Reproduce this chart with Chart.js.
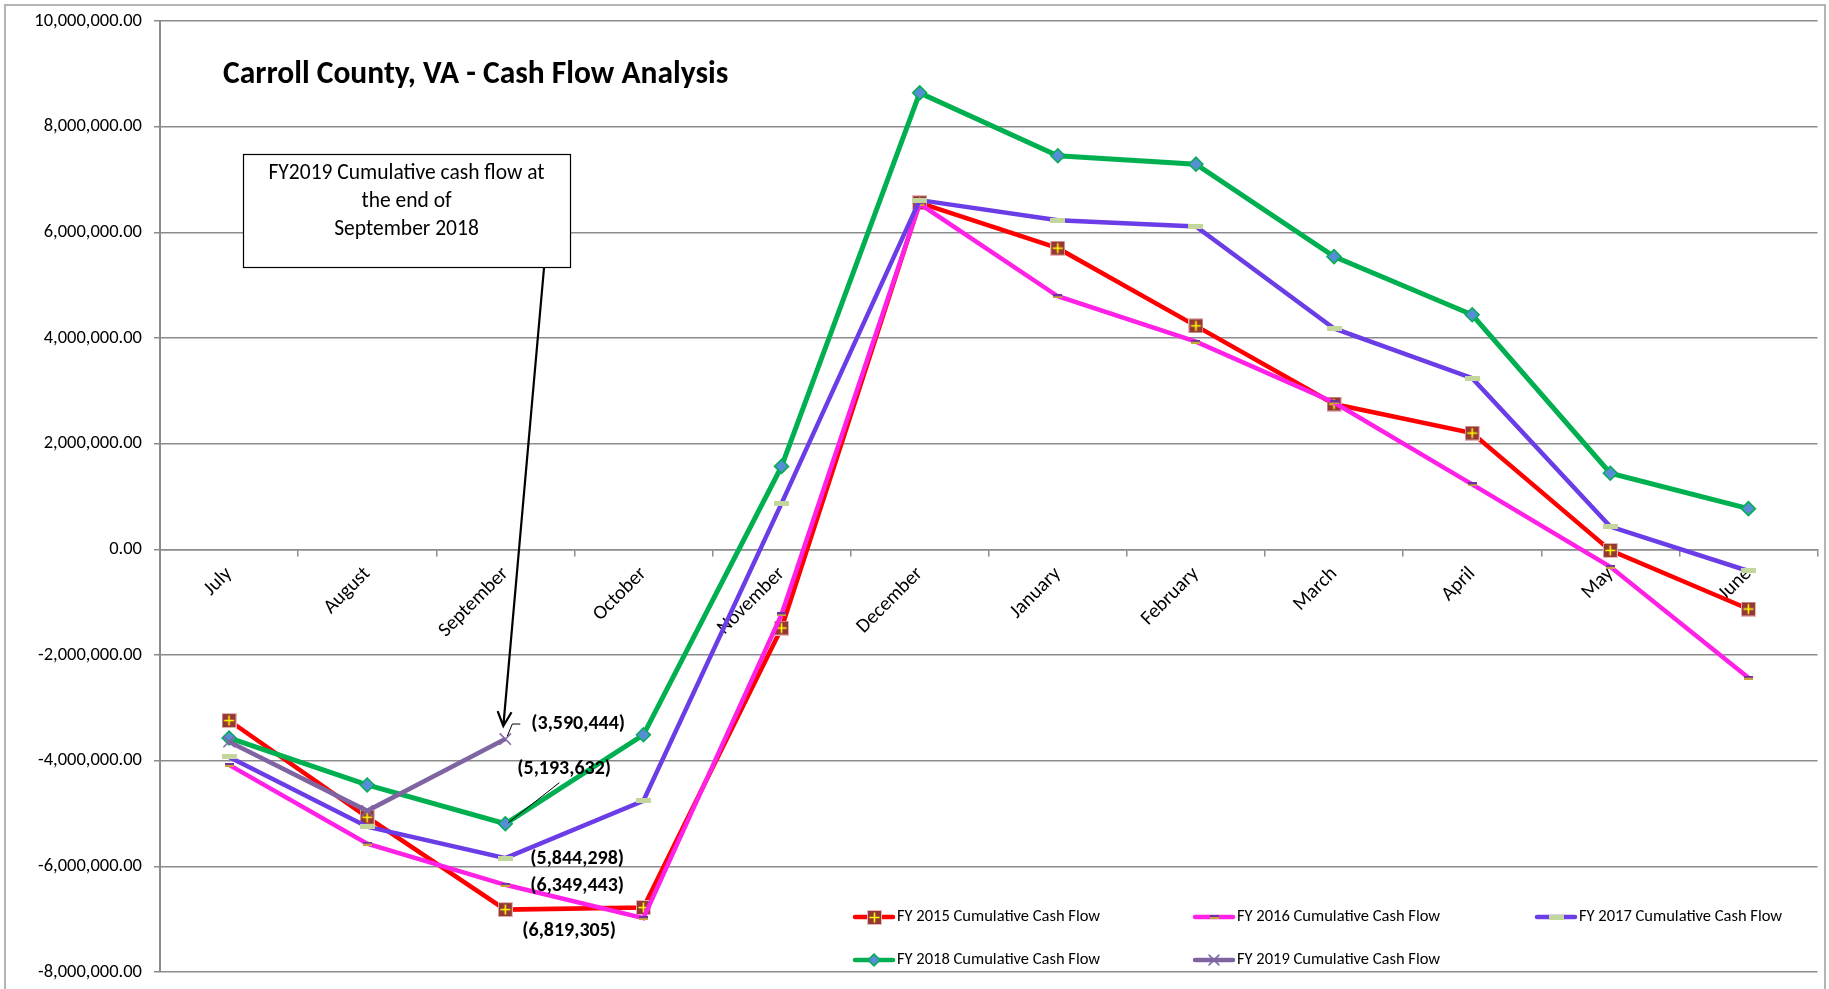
<!DOCTYPE html>
<html>
<head>
<meta charset="utf-8">
<title>Carroll County, VA - Cash Flow Analysis</title>
<script src="https://cdn.jsdelivr.net/npm/chart.js@4.4.0/dist/chart.umd.min.js"></script>
<style>
  html, body { margin: 0; padding: 0; background: #fff; }
  #wrap { width: 1829px; height: 989px; }
</style>
</head>
<body>
<div id="wrap"><canvas id="cashflow" width="1829" height="989"></canvas></div>
<script>
// months of the fiscal year (July -> June)
const months = ['July', 'August', 'September', 'October', 'November', 'December',
                'January', 'February', 'March', 'April', 'May', 'June'];

// cumulative cash flow per fiscal year
const fy2015 = [-3240000, -5070000, -6819305, -6780000, -1490000, 6560000, 5700000, 4230000, 2750000, 2200000, -20000, -1130000];
const fy2016 = [-4080000, -5570000, -6349443, -6980000, -1230000, 6540000, 4790000, 3930000, 2780000, 1230000, -330000, -2430000];
const fy2017 = [-3930000, -5250000, -5844298, -4760000, 870000, 6610000, 6230000, 6110000, 4180000, 3240000, 430000, -410000];
const fy2018 = [-3570000, -4460000, -5193632, -3510000, 1570000, 8640000, 7450000, 7290000, 5540000, 4440000, 1440000, 770000];
const fy2019 = [-3640000, -4950000, -3590444];

const seriesNames = ['FY 2015 Cumulative Cash Flow', 'FY 2016 Cumulative Cash Flow', 'FY 2017 Cumulative Cash Flow',
                     'FY 2018 Cumulative Cash Flow', 'FY 2019 Cumulative Cash Flow'];

// y axis range
const yMin = -8000000;
const yMax = 10000000;
const yStep = 2000000;

const FONT = 'Carlito, Lato, "Open Sans", sans-serif';
const GRID = '#8c8c8c';

// little canvases used as Excel-like markers
function squarePlus() {
    const c = document.createElement('canvas');
    c.width = 15; c.height = 15;
    const g = c.getContext('2d');
    g.fillStyle = '#953735';
    g.fillRect(0, 0, 15, 15);
    g.strokeStyle = '#e6b9b8';
    g.lineWidth = 1;
    g.strokeRect(0.5, 0.5, 14, 14);
    g.strokeStyle = '#ffff00';
    g.lineWidth = 1.6;
    g.beginPath();
    g.moveTo(7.5, 2.5); g.lineTo(7.5, 12.5);
    g.moveTo(2.5, 7.5); g.lineTo(12.5, 7.5);
    g.stroke();
    return c;
}
function smallDash() {
    const c = document.createElement('canvas');
    c.width = 9; c.height = 4;
    const g = c.getContext('2d');
    g.fillStyle = '#7030a0';
    g.fillRect(0, 0, 9, 2);
    g.fillStyle = '#c9a43a';
    g.fillRect(0, 2, 9, 2);
    return c;
}
function paleDash() {
    const c = document.createElement('canvas');
    c.width = 15; c.height = 5;
    const g = c.getContext('2d');
    g.fillStyle = '#c3d69b';
    g.fillRect(0, 0, 15, 5);
    return c;
}

const datasets = [
    { label: seriesNames[0], data: fy2015, borderColor: '#ff0000', borderWidth: 4.5, pointStyle: squarePlus(), order: 5 },
    { label: seriesNames[1], data: fy2016, borderColor: '#ff22e6', borderWidth: 4.5, pointStyle: smallDash(), order: 4 },
    { label: seriesNames[2], data: fy2017, borderColor: '#6a3de6', borderWidth: 4.5, pointStyle: paleDash(), order: 3 },
    { label: seriesNames[3], data: fy2018, borderColor: '#00b050', borderWidth: 5, pointStyle: 'rectRot', pointRadius: 7,
      pointBackgroundColor: '#558ed5', pointBorderColor: '#00b050', pointBorderWidth: 1.5, order: 2 },
    { label: seriesNames[4], data: fy2019, borderColor: '#8064a2', borderWidth: 4.5, pointStyle: 'crossRot', pointRadius: 8,
      pointBorderColor: '#8064a2', pointBorderWidth: 1.5, order: 1 }
].map(d => Object.assign({ tension: 0, fill: false, pointRadius: 7, backgroundColor: d.borderColor }, d));

// September values get labels, offsets are where Excel put them
const sepLabels = [
    { ds: 4, dx: 26, dy: -15, leader: 'elbow' },
    { ds: 3, dx: 12, dy: -55, leader: 'line' },
    { ds: 2, dx: 25, dy: 1 },
    { ds: 1, dx: 25, dy: 1 },
    { ds: 0, dx: 17, dy: 21 }
];

function fmtParen(v) {
    return '(' + Math.abs(Math.round(v)).toLocaleString('en-US') + ')';
}

function drawMarker(ctx, ds, x, y) {
    const ps = ds.pointStyle;
    if (typeof ps !== 'string') {
        ctx.drawImage(ps, Math.round(x - ps.width / 2), Math.round(y - ps.height / 2));
        return;
    }
    const r = ds.pointRadius - 1;
    ctx.save();
    ctx.lineWidth = ds.pointBorderWidth;
    ctx.strokeStyle = ds.pointBorderColor;
    ctx.beginPath();
    if (ps === 'rectRot') {
        ctx.moveTo(x, y - r); ctx.lineTo(x + r, y); ctx.lineTo(x, y + r); ctx.lineTo(x - r, y); ctx.closePath();
        ctx.fillStyle = ds.pointBackgroundColor;
        ctx.fill();
    } else {
        const d = r * 0.7;
        ctx.moveTo(x - d, y - d); ctx.lineTo(x + d, y + d);
        ctx.moveTo(x + d, y - d); ctx.lineTo(x - d, y + d);
    }
    ctx.stroke();
    ctx.restore();
}

const decorations = {
    id: 'decorations',
    beforeDraw(chart) {
        const ctx = chart.ctx;
        ctx.save();
        // outer frame
        ctx.strokeStyle = '#b4b4b4';
        ctx.lineWidth = 2;
        ctx.beginPath();
        ctx.moveTo(5, 989); ctx.lineTo(5, 5); ctx.lineTo(1825, 5); ctx.lineTo(1825, 989);
        ctx.stroke();
        ctx.restore();
    },
    afterDatasetsDraw(chart) {
        const ctx = chart.ctx;
        ctx.save();

        // title
        ctx.fillStyle = '#000';
        ctx.font = 'bold 31.5px ' + FONT;
        ctx.textBaseline = 'middle';
        ctx.textAlign = 'left';
        ctx.fillText('Carroll County, VA - Cash Flow Analysis', 223, 75);

        // call-out box
        const bx = 243, by = 154, bw = 327, bh = 113;
        ctx.fillStyle = '#fff';
        ctx.fillRect(bx, by, bw, bh);
        ctx.strokeStyle = '#000';
        ctx.lineWidth = 1.2;
        ctx.strokeRect(bx + 0.5, by + 0.5, bw, bh);
        ctx.fillStyle = '#000';
        ctx.font = '21.5px ' + FONT;
        ctx.textAlign = 'center';
        ['FY2019 Cumulative cash flow at', 'the end of', 'September 2018'].forEach((t, i) => {
            ctx.fillText(t, bx + bw / 2, 174 + i * 28);
        });

        // arrow to the FY2019 September point
        const p19 = chart.getDatasetMeta(4).data[2];
        const sx = 544, sy = by + bh + 1;
        const tx = p19.x - 2, ty = p19.y - 13;
        const ang = Math.atan2(ty - sy, tx - sx);
        ctx.strokeStyle = '#000';
        ctx.lineWidth = 2.2;
        ctx.beginPath();
        ctx.moveTo(sx, sy);
        ctx.lineTo(tx, ty);
        ctx.moveTo(tx - 16 * Math.cos(ang - 0.45), ty - 16 * Math.sin(ang - 0.45));
        ctx.lineTo(tx, ty);
        ctx.lineTo(tx - 16 * Math.cos(ang + 0.45), ty - 16 * Math.sin(ang + 0.45));
        ctx.stroke();

        // September data labels
        ctx.font = 'bold 20px ' + FONT;
        ctx.textAlign = 'left';
        ctx.textBaseline = 'middle';
        sepLabels.forEach(l => {
            const pt = chart.getDatasetMeta(l.ds).data[2];
            const v = chart.data.datasets[l.ds].data[2];
            const lx = pt.x + l.dx, ly = pt.y + l.dy;
            ctx.fillStyle = '#000';
            ctx.fillText(fmtParen(v), lx, ly);
            ctx.strokeStyle = '#000';
            ctx.lineWidth = 1;
            if (l.leader === 'elbow') {
                ctx.beginPath();
                ctx.moveTo(pt.x + 2, pt.y - 3);
                ctx.lineTo(pt.x + 7, ly);
                ctx.lineTo(lx - 11, ly);
                ctx.stroke();
            } else if (l.leader === 'line') {
                ctx.beginPath();
                ctx.moveTo(pt.x + 3, pt.y - 1);
                ctx.lineTo(lx + 42, ly + 14);
                ctx.stroke();
            }
        });

        // legend, two rows in the lower right of the plot
        const slots = [[853, 917], [1193, 917], [1535, 917], [853, 960], [1193, 960]];
        ctx.font = '16.5px ' + FONT;
        chart.data.datasets.forEach((ds, i) => {
            const [x, y] = slots[i];
            ctx.strokeStyle = ds.borderColor;
            ctx.lineWidth = 4.5;
            ctx.lineCap = 'round';
            ctx.beginPath();
            ctx.moveTo(x + 2, y); ctx.lineTo(x + 40, y);
            ctx.stroke();
            drawMarker(ctx, ds, x + 21, y);
            ctx.fillStyle = '#000';
            ctx.fillText(ds.label, x + 44, y);
        });
        ctx.restore();
    }
};

new Chart(document.getElementById('cashflow').getContext('2d'), {
    type: 'line',
    data: { labels: months, datasets: datasets },
    plugins: [decorations],
    options: {
        responsive: false,
        animation: false,
        devicePixelRatio: 1,
        layout: { padding: { left: 0, top: 21, right: 10, bottom: 17 } },
        plugins: { legend: { display: false }, tooltip: { enabled: false } },
        scales: {
            x: {
                position: { y: 0 },
                offset: true,
                grid: { offset: true, drawOnChartArea: false, drawTicks: true, tickLength: 6, color: GRID, lineWidth: 1.5 },
                border: { color: GRID, width: 1.5 },
                ticks: { color: '#000', font: { family: FONT, size: 20 }, minRotation: 45, maxRotation: 45, padding: 7, autoSkip: false },
                afterFit: s => { s.height = 0; s.paddingLeft = 0; s.paddingRight = 0; }
            },
            y: {
                min: yMin,
                max: yMax,
                grid: { color: GRID, lineWidth: 1.5, tickLength: 6 },
                border: { color: GRID, width: 2 },
                ticks: {
                    stepSize: yStep,
                    padding: 12,
                    color: '#000',
                    font: { family: FONT, size: 18.5 },
                    callback: v => v.toLocaleString('en-US', { minimumFractionDigits: 2, maximumFractionDigits: 2 })
                },
                afterFit: s => { s.width = 160; s.paddingTop = 0; s.paddingBottom = 0; }
            }
        }
    }
});
</script>
</body>
</html>
